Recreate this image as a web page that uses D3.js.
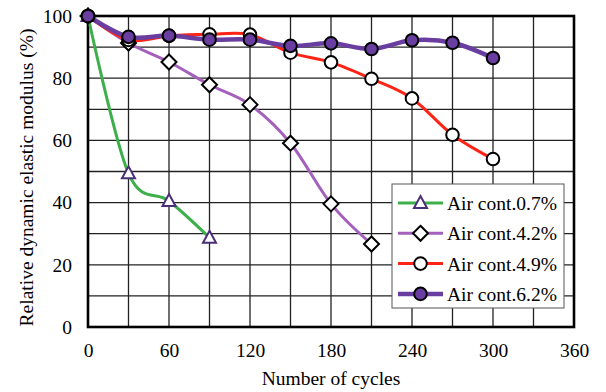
<!DOCTYPE html>
<html>
<head>
<meta charset="utf-8">
<script src="https://d3js.org/d3.v7.min.js"></script>
<style>
  body { margin: 0; background: #fff; }
  text { font-family: "Liberation Serif", "Times New Roman", serif; fill: #000; }
</style>
</head>
<body>
<script>
// data
var seriesNames = ["Air cont.0.7%", "Air cont.4.2%", "Air cont.4.9%", "Air cont.6.2%"];
var cycles = [0, 30, 60, 90, 120, 150, 180, 210, 240, 270, 300];
var air07 = [100, 49.4, 40.5, 28.7];
var air42 = [100, 91.3, 85.2, 77.9, 71.5, 59.1, 39.6, 26.7];
var air49 = [100, 92.3, 93.6, 94.1, 94.0, 88.2, 85.1, 79.8, 73.5, 61.8, 54.0];
var air62 = [100, 93.3, 93.7, 92.4, 92.4, 90.4, 91.2, 89.4, 92.2, 91.4, 86.5];
var xTicks = [0, 60, 120, 180, 240, 300, 360];
var yTicks = [0, 20, 40, 60, 80, 100];

var W = 606, H = 392;
var pLeft = 88, pRight = 574, pTop = 16, pBottom = 327;
var serif = "Liberation Serif";

var svg = d3.select("body").append("svg").attr("width", W).attr("height", H);

var x = d3.scaleLinear().domain([0, 360]).range([pLeft, pRight]);
var y = d3.scaleLinear().domain([0, 100]).range([pBottom, pTop]);

// grid
var g = svg.append("g");
g.selectAll(".vg").data(d3.range(30, 360, 30)).enter().append("line")
  .attr("x1", d => x(d)).attr("x2", d => x(d)).attr("y1", pTop).attr("y2", pBottom)
  .attr("stroke", "#222").attr("stroke-width", 1.3);
g.selectAll(".hg").data(d3.range(10, 100, 10)).enter().append("line")
  .attr("y1", d => y(d)).attr("y2", d => y(d)).attr("x1", pLeft).attr("x2", pRight)
  .attr("stroke", "#222").attr("stroke-width", 1.3);

// frame
svg.append("rect").attr("x", pLeft).attr("y", pTop)
  .attr("width", pRight - pLeft).attr("height", pBottom - pTop)
  .attr("fill", "none").attr("stroke", "#000").attr("stroke-width", 2.6);

// axes
var xAxis = d3.axisBottom(x).tickValues(xTicks).tickSize(0).tickPadding(16);
var yAxis = d3.axisLeft(y).tickValues(yTicks).tickSize(0).tickPadding(16);
var xa = svg.append("g").attr("transform", "translate(0," + pBottom + ")").call(xAxis);
var ya = svg.append("g").attr("transform", "translate(" + pLeft + ",0)").call(yAxis);
[xa, ya].forEach(function(a) {
  a.attr("font-family", serif);
  a.select(".domain").remove();
  a.selectAll("text").attr("font-family", serif).attr("font-size", 19.5).attr("fill", "#000");
});

svg.append("text").attr("x", (pLeft + pRight) / 2).attr("y", 385)
  .attr("font-family", serif).attr("text-anchor", "middle").attr("font-size", 19.5).text("Number of cycles");
svg.append("text").attr("transform", "translate(33," + ((pTop + pBottom) / 2 + 6) + ") rotate(-90)")
  .attr("font-family", serif).attr("text-anchor", "middle").attr("font-size", 19.5).text("Relative dynamic elastic modulus (%)");

var series = [
  { name: seriesNames[0], values: air07, color: "#3db04b", width: 3, marker: "triangle", fill: "#fff", mstroke: "#4a2f78" },
  { name: seriesNames[1], values: air42, color: "#a461bc", width: 3, marker: "diamond", fill: "#fff", mstroke: "#000" },
  { name: seriesNames[2], values: air49, color: "#ff2416", width: 3, marker: "circle", fill: "#fff", mstroke: "#000" },
  { name: seriesNames[3], values: air62, color: "#6a3ea1", width: 4.5, marker: "circle", fill: "#6a3ea1", mstroke: "#000" }
];

var line = d3.line().x(d => x(d[0])).y(d => y(d[1])).curve(d3.curveCatmullRom.alpha(0));

function markerPath(type) {
  if (type === "triangle") return "M0,-7L6.5,5L-6.5,5Z";
  if (type === "diamond") return "M0,-7.5L7.5,0L0,7.5L-7.5,0Z";
  return d3.symbol().type(d3.symbolCircle).size(Math.PI * 6.3 * 6.3)();
}

var plot = svg.append("g");
series.forEach(function(s) {
  var pts = s.values.map((v, i) => [cycles[i], v]);
  plot.append("path").attr("d", line(pts)).attr("fill", "none")
    .attr("stroke", s.color).attr("stroke-width", s.width);
});
series.forEach(function(s) {
  var pts = s.values.map((v, i) => [cycles[i], v]);
  plot.selectAll(null).data(pts).enter().append("path")
    .attr("d", markerPath(s.marker))
    .attr("transform", d => "translate(" + x(d[0]) + "," + y(d[1]) + ")")
    .attr("fill", s.fill).attr("stroke", s.mstroke).attr("stroke-width", 2);
});

// legend
var lg = svg.append("g");
lg.append("rect").attr("x", 392).attr("y", 184).attr("width", 172).attr("height", 124)
  .attr("fill", "#fff").attr("stroke", "#555").attr("stroke-width", 1);
series.forEach(function(s, i) {
  var cy = 203 + i * 30.3;
  lg.append("line").attr("x1", 398).attr("x2", 443).attr("y1", cy).attr("y2", cy)
    .attr("stroke", s.color).attr("stroke-width", s.width);
  lg.append("path").attr("d", markerPath(s.marker))
    .attr("transform", "translate(420.5," + cy + ")")
    .attr("fill", s.fill).attr("stroke", s.mstroke).attr("stroke-width", 2);
  lg.append("text").attr("x", 447).attr("y", cy + 7).attr("font-family", serif)
    .attr("font-size", 19.5).text(s.name);
});
</script>
</body>
</html>
